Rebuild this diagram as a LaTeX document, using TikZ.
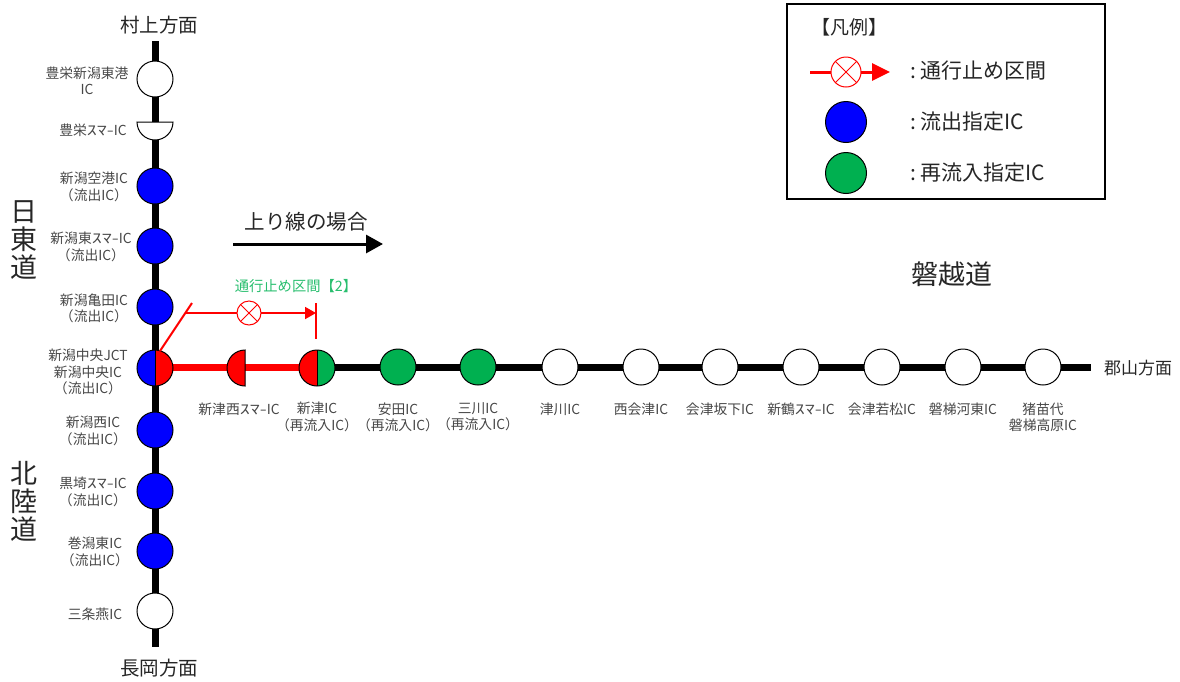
\documentclass[tikz,border=0pt]{standalone}
\usepackage{fontspec}
\usepackage{graphicx}
\setmainfont{Noto Sans CJK JP}
\usetikzlibrary{arrows.meta}
\definecolor{icblue}{RGB}{0,0,255}
\definecolor{icgreen}{RGB}{0,176,80}
\definecolor{seclabel}{RGB}{40,190,110}
\newcommand{\smaic}{\scalebox{1.45}[1]{ｽﾏ-}IC}
\tikzset{
  ic/.style={circle,draw=black,line width=1pt,minimum size=36,inner sep=0,outer sep=0},
  split/.style 2 args={ic,path picture={
    \fill[#1] (path picture bounding box.north west) rectangle (path picture bounding box.south);
    \fill[#2] (path picture bounding box.north) rectangle (path picture bounding box.south east);}},
  xmark/.style={circle,draw=red,fill=white,line width=1pt,inner sep=0,outer sep=0,path picture={
    \draw[red,line width=1pt] (path picture bounding box.north west) -- (path picture bounding box.south east);
    \draw[red,line width=1pt] (path picture bounding box.north east) -- (path picture bounding box.south west);}},
  lbl/.style={align=center,inner sep=0,text=black!72,font=\fontsize{13.8}{16.3}\selectfont},
  big/.style={inner sep=0,text=black!85,font=\fontsize{#1}{#1}\selectfont},
  road/.style={line width=7pt,black},
  closed/.style={line width=7pt,red}
}
\begin{document}
\begin{tikzpicture}[x=1pt,y=-1pt]
\useasboundingbox (0,0) rectangle (1180,681);
\coordinate (north) at (155,41);
\coordinate (south) at (155,647);
\coordinate (east) at (1091,367);
\coordinate (tsu) at (317,367);
\coordinate (west) at (155,367);
\draw[road] (north) -- (south);
\draw[road] (tsu) -- (east);
\draw[closed] (west) -- (tsu);
% north-south
\foreach \name/\yy/\col/\lx/\ly/\txt in {
  toyosakako/79/white/87/81/{豊栄新潟東港\\IC},
  airport/186/icblue/94/187/{新潟空港IC\\（流出IC）},
  higashi/246/icblue/91/247/{新潟東\smaic\\（流出IC）},
  kameda/307/icblue/94/308/{新潟亀田IC\\（流出IC）},
  nishi/430/icblue/93/431/{新潟西IC\\（流出IC）},
  kurosaki/491/icblue/93/492/{黒埼\smaic\\（流出IC）},
  makikata/551/icblue/95/552/{巻潟東IC\\（流出IC）},
  sanjo/611/white/95/614/{三条燕IC}}
  {\node[ic,fill=\col] (\name) at (155,\yy) {};
   \node[lbl] (\name-lbl) at (\lx,\ly) {\txt};}
\draw[fill=white,line width=1pt] (137,122) arc (180:0:18) -- cycle;
\node[lbl] (toyosaka-lbl) at (93,130) {豊栄\smaic};
\node[split={icblue}{red}] (jct) at (155,368) {};
\draw[line width=1pt] (jct.north) -- (jct.south);
\node[lbl] (jct-lbl) at (88,372) {新潟中央JCT\\新潟中央IC\\（流出IC）};
% east
\draw[fill=red,line width=1pt] (245,350) arc (270:90:18) -- cycle;
\node[lbl] (tsunishi-lbl) at (239,409) {新津西\smaic};
\node[split={red}{icgreen}] (niitsu) at (317,368) {};
\draw[line width=1pt] (niitsu.north) -- (niitsu.south);
\node[lbl] (niitsu-lbl) at (317,417) {新津IC\\（再流入IC）};
\foreach \name/\xx/\col/\ly/\txt in {
  yasuda/398/icgreen/417/{安田IC\\（再流入IC）},
  sanka/478/icgreen/417/{三川IC\\（再流入IC）},
  tsugawa/560/white/409/{津川IC},
  nishiaizu/641/white/409/{西会津IC},
  bange/720/white/409/{会津坂下IC},
  niitsuru/801/white/409/{新鶴\smaic},
  wakamatsu/882/white/409/{会津若松IC},
  kawahigashi/963/white/409/{磐梯河東IC},
  inawashiro/1043/white/417/{猪苗代\\磐梯高原IC}}
  {\node[ic,fill=\col] (\name) at (\xx,367) {};
   \node[lbl] (\name-lbl) at (\xx,\ly) {\txt};}
% closed section
\coordinate (diagfoot) at (160,351);
\coordinate (diagtop) at (192,303);
\coordinate (hook) at (185,313);
\coordinate (barfoot) at (316,339);
\coordinate (bartop) at (316,303);
\coordinate (barmid) at (316,313);
\node[xmark,minimum size=24] (secx) at (249,313) {};
\draw[red,line width=2pt] (diagfoot) -- (diagtop);
\draw[red,line width=1.8pt] (hook) -- (secx);
\draw[red,line width=1.8pt,-{Triangle[length=11,width=12]}] (secx) -- (barmid);
\draw[red,line width=2pt] (bartop) -- (barfoot);
\node[inner sep=0,text=seclabel,font=\fontsize{14.3}{14.3}\selectfont] (sec-lbl) at (296,286) {通行止め区間【2】};
% direction
\coordinate (dirleft) at (233,244);
\coordinate (dirright) at (383,244);
\draw[line width=3pt,-{Triangle[length=17,width=18]}] (dirleft) -- (dirright);
\node[big=20.5] (dir-lbl) at (306,222) {上り線の場合};
% other texts
\node[big=19.5] (murakami) at (159,25) {村上方面};
\node[big=19.5] (nagaoka) at (159,668) {長岡方面};
\node[big=17] (koriyama) at (1138,368) {郡山方面};
\node[big=27] (bandai) at (952,274) {磐越道};
\node[big=27,align=center,font=\fontsize{27}{28}\selectfont] (nichito) at (24,240) {日\\東\\道};
\node[big=27,align=center,font=\fontsize{27}{28}\selectfont] (hokuriku) at (24,501) {北\\陸\\道};
% legend
\node[draw=black,line width=1.6pt,fill=none,minimum width=318,minimum height=195,inner sep=0] (legend) at (946,101.5) {};
\node[big=19] (leg-title) at (849,27) {【凡例】};
\coordinate (legleft) at (810,72);
\coordinate (legright) at (890,72);
\draw[red,line width=3pt,-{Triangle[length=18,width=17]}] (legleft) -- (legright);
\node[xmark,minimum size=30] (legx) at (846,72) {};
\node[ic,fill=icblue,minimum size=41] (legblue) at (846,122) {};
\node[ic,fill=icgreen,minimum size=41] (leggreen) at (846,173) {};
\node[big=21,anchor=west] (leg1) at (910,71) {:\hspace{4pt}通行止め区間};
\node[big=21,anchor=west] (leg2) at (910,122) {:\hspace{4pt}流出指定IC};
\node[big=21,anchor=west] (leg3) at (910,173) {:\hspace{4pt}再流入指定IC};
\end{tikzpicture}
\end{document}
